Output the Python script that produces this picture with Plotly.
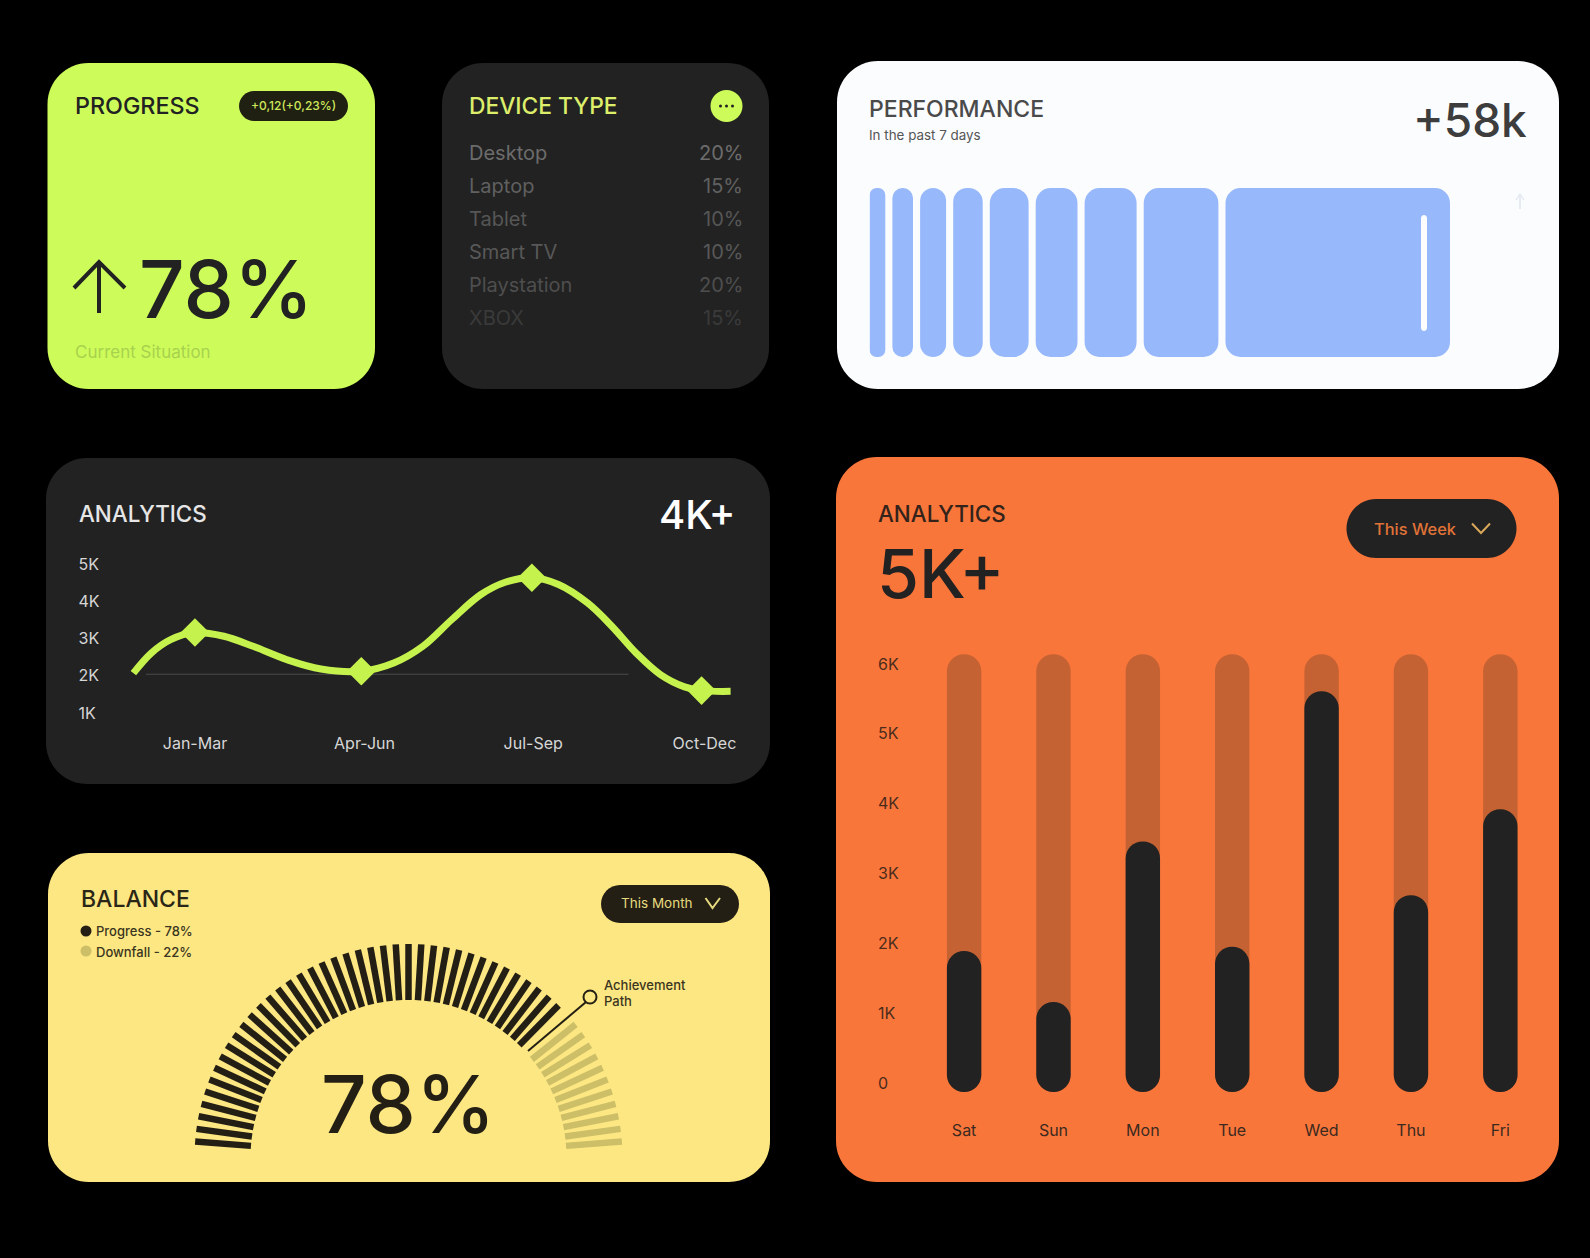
import numpy as np
import plotly.graph_objects as go

W, H = 1590, 1258
FONT = 'Inter'

# colours
BLACK = '#000000'
DARK = '#222222'
LIME = '#cdfc5a'
LINE_LIME = '#c6f24e'
BLUE = '#97b8fa'
WHITE = '#fbfcfe'
ORANGE = '#f9763b'
TRACK = '#c46233'
YELLOW = '#fde782'
INK = '#241f14'
TAN = '#cdbf68'

# device type list
device_names = ['Desktop', 'Laptop', 'Tablet', 'Smart TV', 'Playstation', 'XBOX']
device_shares = ['20%', '15%', '10%', '10%', '20%', '15%']
device_colors = ['#6c6c6c', '#606060', '#565656', '#585858', '#4e4e4e', '#3a3a3a']

# performance bars, widths only
perf_widths = [15.7, 20.6, 26, 29.5, 38.8, 41.8, 52, 74.7, 224.5]
perf_gap = 7.1

# dark analytics line
quarter_labels = ['Jan-Mar', 'Apr-Jun', 'Jul-Sep', 'Oct-Dec']
quarter_ticks = [0, 1.005, 2.005, 3.02]
line_x = [-0.365, -0.259, -0.144, 0, 0.172, 0.345, 0.546, 0.747, 0.986, 1.178, 1.351, 1.523,
          1.695, 1.839, 1.997, 2.155, 2.328, 2.471, 2.615, 2.759, 2.902, 3.003, 3.175]
line_y = [2.07, 2.61, 2.97, 3.16, 3.06, 2.79, 2.43, 2.18, 2.12, 2.34, 2.79, 3.51,
          4.18, 4.51, 4.63, 4.45, 3.95, 3.33, 2.61, 2.03, 1.70, 1.60, 1.58]
peak_x = [0, 0.986, 1.997, 3.003]
peak_y = [3.16, 2.12, 4.63, 1.60]
line_ticks = [1, 2, 3, 4, 5]
line_ticktext = ['1K', '2K', '3K', '4K', '5K']

# orange week bars
days = ['Sat', 'Sun', 'Mon', 'Tue', 'Wed', 'Thu', 'Fri']
day_values = [1.89, 1.16, 3.46, 1.95, 5.61, 2.69, 3.92]
week_ticks = [0, 1, 2, 3, 4, 5, 6]
week_ticktext = ['0', '1K', '2K', '3K', '4K', '5K', '6K']
bar_floor = -0.13
bar_ceiling = 6.14

# balance gauge
gauge_angles_total = 51
downfall_ticks = 11
path_tick = 11
gauge_inner = 158
gauge_outer = 214


def px(x):
    return x / W


def py(y):
    return 1 - y / H


def round_rect(x0, y0, x1, y1, r):
    k = r * 0.45
    pts = [
        f'M {px(x0 + r)} {py(y0)}', f'L {px(x1 - r)} {py(y0)}',
        f'C {px(x1 - k)} {py(y0)} {px(x1)} {py(y0 + k)} {px(x1)} {py(y0 + r)}',
        f'L {px(x1)} {py(y1 - r)}',
        f'C {px(x1)} {py(y1 - k)} {px(x1 - k)} {py(y1)} {px(x1 - r)} {py(y1)}',
        f'L {px(x0 + r)} {py(y1)}',
        f'C {px(x0 + k)} {py(y1)} {px(x0)} {py(y1 - k)} {px(x0)} {py(y1 - r)}',
        f'L {px(x0)} {py(y0 + r)}',
        f'C {px(x0)} {py(y0 + k)} {px(x0 + k)} {py(y0)} {px(x0 + r)} {py(y0)}', 'Z',
    ]
    return ' '.join(pts)


def card(x0, y0, x1, y1, color, r=41, layer='below'):
    return dict(type='path', xref='paper', yref='paper', path=round_rect(x0, y0, x1, y1, r),
                fillcolor=color, line=dict(width=0), layer=layer)


def polyline(points, color, width, layer='above'):
    path = 'M ' + ' L '.join(f'{px(x)} {py(y)}' for x, y in points)
    return dict(type='path', xref='paper', yref='paper', path=path,
                line=dict(color=color, width=width), layer=layer)


def dot(cx, cy, r, fill, line_color=None, line_width=0, layer='above'):
    return dict(type='circle', xref='paper', yref='paper', x0=px(cx - r), x1=px(cx + r),
                y0=py(cy + r), y1=py(cy - r), fillcolor=fill,
                line=dict(color=line_color or fill, width=line_width), layer=layer)


def label(x, y, text, size, color, anchor='left', weight=400):
    # annotations carry a few px of padding, take it back out
    nudge = {'left': -3, 'right': 3, 'center': 0}[anchor]
    return dict(x=px(x + nudge), y=py(y), xref='paper', yref='paper', text=text, showarrow=False,
                xanchor=anchor, yanchor='middle', align=anchor,
                font=dict(family=FONT, size=size, color=color, weight=weight))


fig = go.Figure()

# performance bars
perf_edges = np.cumsum([0] + [w + perf_gap for w in perf_widths[:-1]])
perf_centers = [e + w / 2 for e, w in zip(perf_edges, perf_widths)]
fig.add_trace(go.Bar(x=perf_centers, y=[1] * len(perf_widths), base=0, width=perf_widths,
                     marker=dict(color=BLUE, cornerradius=15, line=dict(width=0)),
                     xaxis='x3', yaxis='y3', showlegend=False))

# dark analytics
fig.add_trace(go.Scatter(x=line_x, y=line_y, mode='lines',
                         line=dict(color=LINE_LIME, width=7, shape='spline', smoothing=1),
                         xaxis='x', yaxis='y', showlegend=False))
fig.add_trace(go.Scatter(x=peak_x, y=peak_y, mode='markers',
                         marker=dict(symbol='diamond', size=22, color=LINE_LIME, line=dict(width=0)),
                         xaxis='x', yaxis='y', showlegend=False))

# orange bars
fig.add_trace(go.Bar(x=days, y=[bar_ceiling - bar_floor] * len(days), base=bar_floor, width=0.385,
                     marker=dict(color=TRACK, cornerradius=17, line=dict(width=0)),
                     xaxis='x2', yaxis='y2', showlegend=False))
fig.add_trace(go.Bar(x=days, y=[v - bar_floor for v in day_values], base=bar_floor, width=0.385,
                     marker=dict(color=DARK, cornerradius=17, line=dict(width=0)),
                     xaxis='x2', yaxis='y2', showlegend=False))

# gauge ticks, 0 deg on the right
gauge_angles = np.linspace(4.4, 175.6, gauge_angles_total)
theta_down, r_down, theta_up, r_up = [], [], [], []
for i, a in enumerate(gauge_angles):
    if i < downfall_ticks:
        theta_down += [a, a, None]
        r_down += [gauge_inner, gauge_outer, None]
    elif i > path_tick:
        theta_up += [a, a, None]
        r_up += [gauge_inner, gauge_outer, None]
fig.add_trace(go.Scatterpolar(theta=theta_down, r=r_down, mode='lines',
                              line=dict(color=TAN, width=6.5), showlegend=False))
fig.add_trace(go.Scatterpolar(theta=theta_up, r=r_up, mode='lines',
                              line=dict(color=INK, width=6.5), showlegend=False))

shapes = [
    card(47.5, 63, 375, 389, LIME),
    card(442, 63, 769, 389, DARK),
    card(837, 61, 1559, 389, WHITE),
    card(46, 458, 770, 784, DARK),
    card(48, 853, 770, 1182, YELLOW),
    card(836, 457, 1559, 1182, ORANGE),
]

# progress pill and arrow
shapes.append(card(239, 91, 348, 121, '#1f1f12', r=15, layer='above'))
shapes.append(polyline([(99, 262), (99, 313)], DARK, 4))
shapes.append(polyline([(74, 288), (99, 262), (125, 288)], DARK, 4))

# device menu button
shapes.append(dot(726.5, 106, 16, LIME))
for dx in (-6, 0, 6):
    shapes.append(dot(726.5 + dx, 106, 1.5, DARK))

# stripe on the last performance bar, ghost arrow beside it
shapes.append(card(1421, 215, 1427, 331, WHITE, r=3, layer='above'))
shapes.append(polyline([(1520, 195), (1520, 209)], '#e6eaf3', 2))
shapes.append(polyline([(1516, 200), (1520, 194), (1524, 200)], '#e6eaf3', 1.5))
# faint gridline behind the curve
shapes.append(dict(type='line', xref='x', yref='y', x0=-0.29, x1=2.57, y0=2.04, y1=2.04,
                   line=dict(color='#4a4a4a', width=1), layer='below'))

# balance pill, legend dots, achievement marker
shapes.append(card(601, 885, 739, 923, INK, r=19, layer='above'))
shapes.append(polyline([(705.5, 898), (712.5, 908), (720, 898)], '#e6da7f', 2))
shapes.append(dot(86, 931, 5.5, INK))
shapes.append(dot(86, 951, 5.5, TAN))
shapes.append(polyline([(528, 1051), (586, 1002)], INK, 2))
shapes.append(dot(590, 997, 6.5, YELLOW, INK, 2))

# week pill
shapes.append(card(1346.5, 499, 1516.5, 558, DARK, r=29.5, layer='above'))
shapes.append(polyline([(1472, 523.5), (1481, 533), (1490, 523.5)], '#d9a85a', 2))

annotations = [
    label(75.5, 105.5, 'PROGRESS', 23.3, DARK, weight=500),
    label(293.5, 105.5, '+0,12(+0,23%)', 12, '#cfe85a', 'center', 500),
    label(140, 288, '78%', 80, DARK, weight=500),
    label(75.5, 352, 'Current Situation', 17, '#a8d24e'),
    label(470, 105.5, 'DEVICE TYPE', 22.8, '#dcee6a', weight=500),
    label(869.5, 109, 'PERFORMANCE', 23, '#4a4a4a', weight=500),
    label(869.5, 134.5, 'In the past 7 days', 13.4, '#555555'),
    label(1526, 120, '+58k', 46, '#3d3d3d', 'right', 500),
    label(79.5, 513, 'ANALYTICS', 22.4, '#e6e6e6', weight=500),
    label(735, 515, '4K+', 40, '#ffffff', 'right', 500),
    label(81.5, 899, 'BALANCE', 23, '#2a2617', weight=500),
    label(622, 903, 'This Month', 13.5, '#e6da7f'),
    label(96.5, 931, 'Progress - 78%', 13, '#3a3520', weight=500),
    label(96.5, 951.5, 'Downfall - 22%', 13, '#3a3520', weight=500),
    label(408, 1103, '78%', 80, INK, 'center', 500),
    label(604.5, 985, 'Achievement', 13, '#3a3520', weight=500),
    label(604.5, 1001, 'Path', 13, '#3a3520', weight=500),
    label(879, 513.5, 'ANALYTICS', 22.4, '#33231a', weight=500),
    label(878, 572.5, '5K+', 68, DARK, weight=500),
    label(1375, 529, 'This Week', 16.4, '#e07338', weight=500),
]
for i, (name, share, color) in enumerate(zip(device_names, device_shares, device_colors)):
    y = 152.7 + 33.1 * i
    annotations.append(label(470, y, name, 20, color))
    annotations.append(label(741.5, y, share, 20, color, 'right'))

tick_font = dict(family=FONT, size=16)
fig.update_layout(
    width=W, height=H, margin=dict(l=0, r=0, t=0, b=0),
    paper_bgcolor=BLACK, plot_bgcolor='rgba(0,0,0,0)', template='none',
    barmode='overlay', showlegend=False, shapes=shapes, annotations=annotations,
    # dark analytics axes
    xaxis=dict(domain=[px(75.5), px(750)], range=[-0.708, 3.29], tickvals=quarter_ticks, ticktext=quarter_labels,
               showgrid=False, zeroline=False, showline=False, ticks='',
               tickfont=dict(tick_font, color='#d6d6d6'), anchor='y'),
    yaxis=dict(domain=[py(732), py(545)], range=[0.489, 5.51], tickvals=line_ticks, ticktext=line_ticktext,
               showgrid=False, zeroline=False, showline=False, ticks='', ticklabelposition='inside',
               tickfont=dict(tick_font, color='#d6d6d6'), anchor='x'),
    # orange bar axes
    xaxis2=dict(domain=[px(875), px(1545)], range=[-0.997, 6.5], type='category', categoryorder='array',
                categoryarray=days, showgrid=False, zeroline=False, showline=False, ticks='',
                tickfont=dict(tick_font, color='#3b2a20'), anchor='y2'),
    yaxis2=dict(domain=[py(1119), py(640)], range=[-0.516, 6.344], tickvals=week_ticks, ticktext=week_ticktext,
                showgrid=False, zeroline=False, showline=False, ticks='', ticklabelposition='inside',
                tickfont=dict(tick_font, color='#4a2c1c'), anchor='x2'),
    # performance bars sit on hidden axes
    xaxis3=dict(domain=[px(869.6), px(1450)], range=[0, 580.4], visible=False, anchor='y3'),
    yaxis3=dict(domain=[py(357), py(188)], range=[0, 1], visible=False, anchor='x3'),
    polar=dict(domain=dict(x=[px(408.5 - 220), px(408.5 + 220)], y=[py(1158), py(1158 - 220)]),
               sector=[0, 180], bgcolor='rgba(0,0,0,0)',
               radialaxis=dict(visible=False, range=[0, 220]),
               angularaxis=dict(visible=False)),
)

fig.write_html('out.html', config={'displayModeBar': False},
               post_script="document.body.style.margin='0';document.body.style.background='#000';")
